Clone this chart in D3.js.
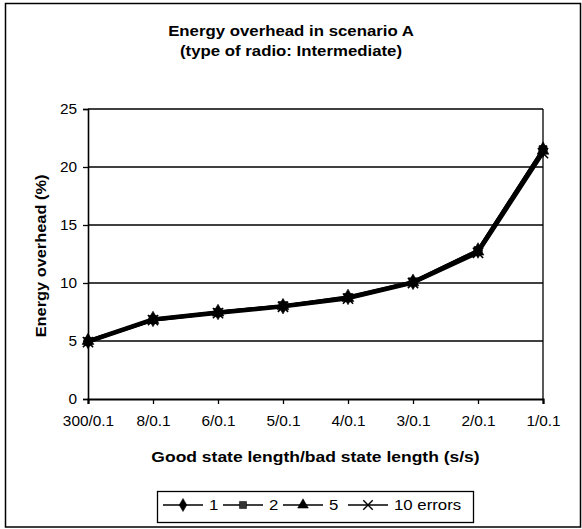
<!DOCTYPE html>
<html>
<head>
<meta charset="utf-8">
<script src="https://cdn.jsdelivr.net/npm/d3@7"></script>
<style>
  html, body { margin: 0; padding: 0; background: #fff; }
  svg { display: block; font-family: "Liberation Sans", Arial, sans-serif; }
</style>
</head>
<body>
<svg id="chart" width="582" height="529"></svg>
<script>
// Good/bad state length ratios on the x axis
const categories = ["300/0.1", "8/0.1", "6/0.1", "5/0.1", "4/0.1", "3/0.1", "2/0.1", "1/0.1"];
// Energy overhead (%) per number of errors
const seriesNames = ["1", "2", "5", "10 errors"];
const errors1  = [5.0, 6.9, 7.5, 8.0, 8.8, 10.1, 12.8, 21.5];
const errors2  = [4.95, 6.85, 7.45, 8.05, 8.75, 10.1, 12.8, 21.5];
const errors5  = [5.0, 6.8, 7.45, 8.0, 8.7, 10.05, 12.7, 21.4];
const errors10 = [4.9, 6.8, 7.4, 7.95, 8.65, 10.0, 12.6, 21.2];
const yTicks = [0, 5, 10, 15, 20, 25];

const seriesValues = [errors1, errors2, errors5, errors10];
const markerTypes = [d3.symbolDiamond, d3.symbolSquare, d3.symbolTriangle, d3.symbolX];
const markerSizes = [70, 64, 60, 70];

// text is drawn slightly widened, as in the original chart export
const TEXT_STRETCH = 1.2;
const TICK_STRETCH = 1.1;

const svg = d3.select("#chart");

// outer frame
svg.append("rect")
  .attr("x", 5.5).attr("y", 3.5).attr("width", 575).attr("height", 523.5)
  .attr("fill", "#fff").attr("stroke", "#000").attr("stroke-width", 1.5);

const plot = { left: 88, right: 543, top: 109, bottom: 399 };

const x = d3.scalePoint().domain(categories).range([plot.left, plot.right]);
const y = d3.scaleLinear().domain([0, 25]).range([plot.bottom, plot.top]);

function stretchedText(parent, cx, cy, str, opts) {
  const t = parent.append("text")
    .attr("transform", `translate(${cx},${cy}) scale(${opts.stretch},1)`)
    .attr("text-anchor", opts.anchor || "middle")
    .attr("font-size", opts.size)
    .attr("font-weight", opts.bold ? "bold" : "normal")
    .text(str);
  return t;
}

// title
stretchedText(svg, 291, 36, "Energy overhead in scenario A", { size: 14, bold: true, stretch: TEXT_STRETCH });
stretchedText(svg, 291, 56, "(type of radio: Intermediate)", { size: 14, bold: true, stretch: TEXT_STRETCH });

// horizontal grid lines
svg.append("g").selectAll("line")
  .data(yTicks.filter(d => d > 0))
  .join("line")
  .attr("x1", plot.left).attr("x2", plot.right)
  .attr("y1", d => y(d)).attr("y2", d => y(d))
  .attr("stroke", "#000").attr("stroke-width", 1.3);

// right border of plot area
svg.append("line")
  .attr("x1", plot.right).attr("x2", plot.right)
  .attr("y1", plot.top).attr("y2", plot.bottom)
  .attr("stroke", "#000").attr("stroke-width", 1.3);

// y axis
const yAxis = svg.append("g")
  .attr("transform", `translate(${plot.left},0)`)
  .call(d3.axisLeft(y).tickValues(yTicks).tickSize(5).tickPadding(6));
yAxis.select(".domain").attr("stroke-width", 1.6);
yAxis.selectAll("line").attr("stroke-width", 1.3);
yAxis.selectAll("text")
  .attr("font-size", 14).attr("fill", "#000")
  .attr("font-family", "Liberation Sans, Arial, sans-serif")
  .attr("transform", function () {
    return `translate(${+this.getAttribute("x")},0) scale(${TICK_STRETCH},1)`;
  })
  .attr("x", 0);

// x axis
const xAxis = svg.append("g")
  .attr("transform", `translate(0,${plot.bottom})`)
  .call(d3.axisBottom(x).tickSize(5).tickPadding(12));
xAxis.select(".domain").attr("stroke-width", 2.2);
xAxis.selectAll("line").attr("stroke-width", 1.3);
xAxis.selectAll("text")
  .attr("font-size", 14).attr("fill", "#000")
  .attr("font-family", "Liberation Sans, Arial, sans-serif")
  .attr("transform", `scale(${TICK_STRETCH},1)`);

// axis titles
stretchedText(svg, (plot.left + plot.right) / 2, 462, "Good state length/bad state length (s/s)",
  { size: 14, bold: true, stretch: 1.25 });
svg.append("text")
  .attr("transform", `translate(46,${(plot.top + plot.bottom) / 2 + 2}) rotate(-90) scale(1.17,1)`)
  .attr("text-anchor", "middle").attr("font-size", 14).attr("font-weight", "bold")
  .text("Energy overhead (%)");

// series lines and markers
const line = d3.line().x((d, i) => x(categories[i])).y(d => y(d));
seriesValues.forEach(vals => {
  svg.append("path")
    .datum(vals)
    .attr("d", line)
    .attr("fill", "none").attr("stroke", "#000").attr("stroke-width", 3.5)
    .attr("stroke-linejoin", "round");
});
seriesValues.forEach((vals, s) => {
  svg.append("g").selectAll("path")
    .data(vals)
    .join("path")
    .attr("transform", (d, i) => `translate(${x(categories[i])},${y(d)})`)
    .attr("d", d3.symbol().type(markerTypes[s]).size(markerSizes[s]))
    .attr("fill", "#000").attr("stroke", "#000")
    .attr("stroke-width", s === 3 ? 1.6 : 0.6);
});

// legend
const legend = svg.append("g");
legend.append("rect")
  .attr("x", 157.5).attr("y", 491.5).attr("width", 316).attr("height", 31)
  .attr("fill", "#fff").attr("stroke", "#000").attr("stroke-width", 1.3);
const legendX = [163, 223, 283, 348];
seriesNames.forEach((name, s) => {
  const g = legend.append("g").attr("transform", `translate(${legendX[s]},505)`);
  g.append("line").attr("x1", 0).attr("x2", 40).attr("y1", 0).attr("y2", 0)
    .attr("stroke", "#000").attr("stroke-width", 1.3);
  g.append("path")
    .attr("transform", "translate(20,0)")
    .attr("d", d3.symbol().type(markerTypes[s]).size(s === 3 ? 60 : 50))
    .attr("fill", s === 1 ? "#333" : "#000").attr("stroke", "#000")
    .attr("stroke-width", s === 3 ? 1.4 : 0.5);
  stretchedText(g, 46, 5, name, { size: 14, anchor: "start", stretch: 1.2 });
});
</script>
</body>
</html>
